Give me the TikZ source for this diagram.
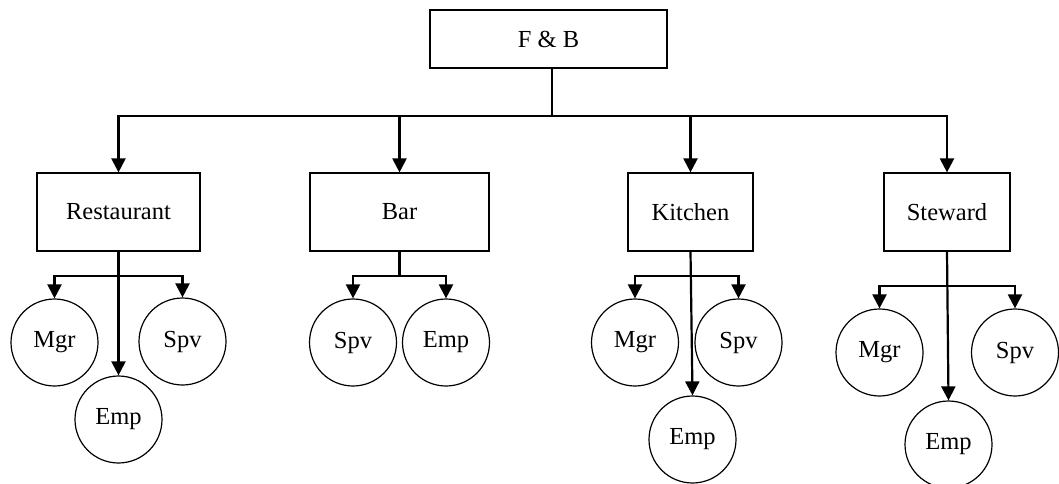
\documentclass[tikz,border=0pt]{standalone}
\usepackage{fontspec}
\setmainfont{Liberation Serif}
\usetikzlibrary{arrows.meta}
\begin{document}
\begin{tikzpicture}[x=1pt,y=-1pt,
  every node/.style={font=\fontsize{24.5}{29}\selectfont},
  unit/.style={draw, line width=1.2pt, inner sep=0pt, anchor=center},
  person/.style={draw, circle, line width=1.2pt, minimum size=87pt, inner sep=0pt},
  link/.style={line width=2.2pt},
  arr/.style={link, -{Triangle[length=14pt,width=14pt]}}]
\useasboundingbox (0,0) rectangle (1059,484);

% top of the chart
\node[unit, minimum width=237pt, minimum height=58pt] (fb) at (548.5,39) {F \& B};

% department boxes
\node[unit, minimum width=163pt, minimum height=78pt] (rest) at (118.5,212) {Restaurant};
\node[unit, minimum width=179pt, minimum height=78pt] (bar)  at (399.5,212) {Bar};
\node[unit, minimum width=125pt, minimum height=78pt] (kit)  at (690.5,212) {Kitchen};
\node[unit, minimum width=126pt, minimum height=78pt] (stw)  at (947,212) {Steward};

% staff circles
\node[person] (rmgr) at (54.5,342.5) {Mgr};
\node[person] (rspv) at (182.5,341.5) {Spv};
\node[person] (remp) at (118.5,419.5) {Emp};

\node[person] (bspv) at (353,342.5) {Spv};
\node[person] (bemp) at (446,342.5) {Emp};

\node[person] (kmgr) at (635,342.5) {Mgr};
\node[person] (kspv) at (738.5,342.5) {Spv};
\node[person] (kemp) at (692.5,439.5) {Emp};

\node[person] (smgr) at (879.5,352.5) {Mgr};
\node[person] (sspv) at (1015,352.5) {Spv};
\node[person] (semp) at (948.5,444.5) {Emp};

% junctions
\coordinate (top) at (552,116);
\coordinate (rj) at (118.5,276);
\coordinate (bj) at (399.5,276);
\coordinate (kj) at (691,276);
\coordinate (sj) at (947,286);

% F & B to departments
\draw[link] (fb.south -| top) -- (top);
\draw[arr] (top) -| (rest.north);
\draw[arr] (top) -| (bar.north);
\draw[arr] (top) -| (kit.north);
\draw[arr] (top) -| (stw.north);

% Restaurant
\draw[arr] (rest.south) -- (remp.north);
\draw[arr] (rj) -| (rmgr.north);
\draw[arr] (rj) -| (rspv.north);

% Bar
\draw[link] (bar.south) -- (bj);
\draw[arr] (bj) -| (bspv.north);
\draw[arr] (bj) -| (bemp.north);

% Kitchen
\draw[arr] (kit.south) -- (kemp.north);
\draw[arr] (kj) -| (kmgr.north);
\draw[arr] (kj) -| (kspv.north);

% Steward
\draw[arr] (stw.south) -- (semp.north);
\draw[arr] (sj) -| (smgr.north);
\draw[arr] (sj) -| (sspv.north);
\end{tikzpicture}
\end{document}
